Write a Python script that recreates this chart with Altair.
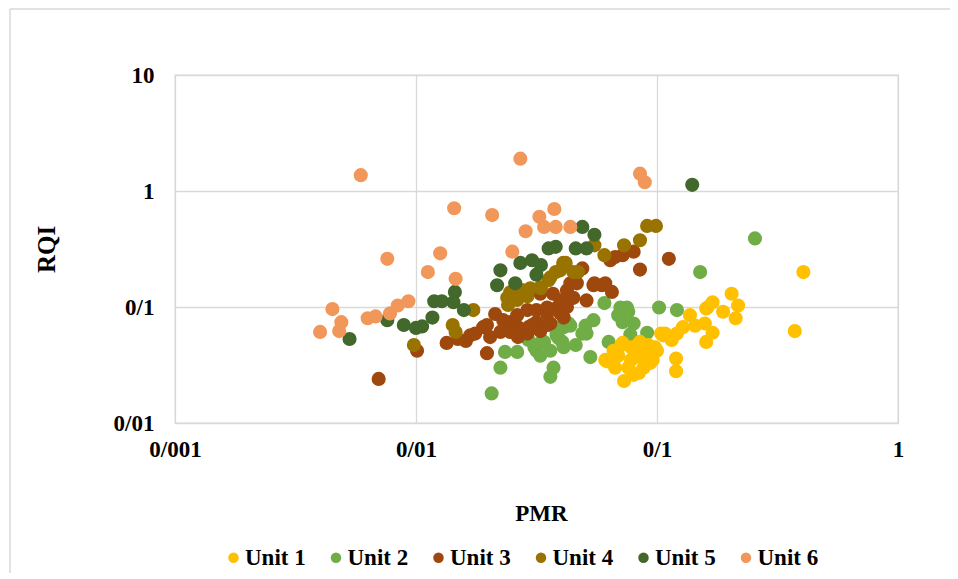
import altair as alt
import pandas as pd

# ---- data (PMR, RQI) per unit ----
u1_pmr = [0.405, 0.373, 0.204, 0.217, 0.212, 0.170, 0.162, 0.188, 0.160, 0.158, 0.170, 0.160,
          0.137, 0.128, 0.121, 0.120, 0.120, 0.106, 0.098, 0.100, 0.108, 0.094, 0.085, 0.083,
          0.088, 0.085, 0.078, 0.080, 0.073, 0.076, 0.071, 0.072, 0.069, 0.067, 0.062, 0.061,
          0.096, 0.089, 0.104, 0.115, 0.144, 0.092, 0.066, 0.078, 0.084]
u1_rqi = [0.20, 0.062, 0.13, 0.103, 0.080, 0.11, 0.099, 0.091, 0.097, 0.072, 0.060, 0.050,
          0.085, 0.067, 0.059, 0.036, 0.028, 0.057, 0.045, 0.042, 0.059, 0.033, 0.050, 0.047,
          0.030, 0.037, 0.045, 0.026, 0.023, 0.030, 0.047, 0.049, 0.038, 0.030, 0.034, 0.035,
          0.035, 0.040, 0.059, 0.052, 0.069, 0.047, 0.042, 0.035, 0.027]

u2_pmr = [0.0206, 0.0224, 0.0234, 0.0263, 0.0293, 0.031, 0.0316, 0.0328, 0.0328, 0.034, 0.0361,
          0.0361, 0.0372, 0.0383, 0.039, 0.0405, 0.0375, 0.041, 0.041, 0.043, 0.0437, 0.046,
          0.049, 0.0505, 0.051, 0.0529, 0.0545, 0.0605, 0.063, 0.069, 0.0705, 0.072, 0.075,
          0.076, 0.080, 0.0775, 0.091, 0.102, 0.121, 0.151, 0.255]
u2_rqi = [0.018, 0.030, 0.041, 0.041, 0.052, 0.045, 0.042, 0.038, 0.049, 0.050, 0.042,
          0.025, 0.030, 0.057, 0.054, 0.050, 0.067, 0.067, 0.045, 0.072, 0.069, 0.047,
          0.059, 0.069, 0.059, 0.037, 0.077, 0.108, 0.050, 0.085, 0.099, 0.074, 0.099,
          0.091, 0.072, 0.058, 0.060, 0.099, 0.094, 0.20, 0.39]

u3_pmr = [0.0070, 0.0101, 0.0134, 0.0149, 0.0161, 0.0168, 0.0176, 0.019, 0.0197, 0.0203, 0.0197,
          0.0213, 0.0224, 0.0230, 0.0246, 0.0246, 0.0263, 0.0265, 0.0265, 0.029, 0.029, 0.0293,
          0.0303, 0.0316, 0.0316, 0.0328, 0.0328, 0.035, 0.035, 0.035, 0.0361, 0.037, 0.038,
          0.0397, 0.0397, 0.041, 0.0423, 0.0423, 0.0437, 0.045, 0.0465, 0.049, 0.051, 0.0545,
          0.055, 0.059, 0.061, 0.065, 0.064, 0.067, 0.072, 0.080, 0.085, 0.112]
u3_rqi = [0.024, 0.042, 0.049, 0.053, 0.051, 0.057, 0.059, 0.067, 0.040, 0.055, 0.070,
          0.087, 0.061, 0.077, 0.074, 0.061, 0.085, 0.067, 0.055, 0.094, 0.059, 0.067,
          0.070, 0.074, 0.094, 0.062, 0.13, 0.087, 0.070, 0.099, 0.072, 0.13, 0.097,
          0.114, 0.088, 0.081, 0.10, 0.139, 0.16, 0.12, 0.16, 0.215, 0.114, 0.154,
          0.16, 0.154, 0.16, 0.135, 0.253, 0.27, 0.28, 0.30, 0.21, 0.26]

u4_pmr = [0.0098, 0.0142, 0.0146, 0.0173, 0.0241, 0.0246, 0.0239, 0.0263, 0.0275, 0.0298, 0.0328,
          0.0355, 0.038, 0.0408, 0.0418, 0.045, 0.047, 0.0361, 0.033, 0.055, 0.0605, 0.073,
          0.085, 0.091, 0.099, 0.029, 0.0397]
u4_rqi = [0.047, 0.070, 0.061, 0.094, 0.104, 0.134, 0.12, 0.115, 0.14, 0.145, 0.148,
          0.170, 0.20, 0.24, 0.24, 0.20, 0.20, 0.18, 0.145, 0.34, 0.28, 0.34,
          0.376, 0.50, 0.50, 0.124, 0.207]

u5_pmr = [0.0053, 0.0076, 0.0089, 0.0100, 0.0106, 0.0117, 0.0119, 0.0128, 0.0145, 0.0143, 0.0158,
          0.0224, 0.0217, 0.0258, 0.0271, 0.0303, 0.0316, 0.0355, 0.038, 0.049, 0.055, 0.046,
          0.051, 0.140, 0.033]
u5_rqi = [0.053, 0.077, 0.070, 0.066, 0.068, 0.081, 0.112, 0.112, 0.135, 0.11, 0.094,
          0.207, 0.154, 0.16, 0.24, 0.253, 0.19, 0.32, 0.33, 0.49, 0.42, 0.32,
          0.32, 1.13, 0.23]

u6_pmr = [0.0059, 0.0045, 0.0040, 0.0049, 0.0048, 0.0063, 0.0068, 0.0078, 0.0084, 0.0093, 0.0076,
          0.0112, 0.0126, 0.0146, 0.0144, 0.0207, 0.0271, 0.0251, 0.0285, 0.0325, 0.034, 0.0375,
          0.038, 0.0437, 0.085, 0.089]
u6_rqi = [1.37, 0.096, 0.061, 0.074, 0.062, 0.080, 0.083, 0.088, 0.103, 0.112, 0.26,
          0.20, 0.29, 0.175, 0.71, 0.62, 1.9, 0.30, 0.45, 0.60, 0.49, 0.70,
          0.49, 0.49, 1.41, 1.19]

units = ["Unit 1", "Unit 2", "Unit 3", "Unit 4", "Unit 5", "Unit 6"]
colors = ["#FFC000", "#70AD47", "#9E480E", "#997300", "#43682B", "#F1975A"]
x_ticks = [0.001, 0.01, 0.1, 1]
y_ticks = [0.01, 0.1, 1, 10]

series = {
    "Unit 1": (u1_pmr, u1_rqi), "Unit 2": (u2_pmr, u2_rqi), "Unit 3": (u3_pmr, u3_rqi),
    "Unit 4": (u4_pmr, u4_rqi), "Unit 5": (u5_pmr, u5_rqi), "Unit 6": (u6_pmr, u6_rqi),
}
draw_order = ["Unit 2", "Unit 3", "Unit 4", "Unit 5", "Unit 6", "Unit 1"]
rows = []
for i, u in enumerate(draw_order):
    xs, ys = series[u]
    for a, b in zip(xs, ys):
        rows.append({"unit": u, "PMR": a, "RQI": b, "ord": i})
df = pd.DataFrame(rows)

FONT = "Liberation Serif"
W, H = 723, 348

points = alt.Chart(df).mark_circle(size=200, opacity=1).encode(
    x=alt.X("PMR:Q",
            scale=alt.Scale(type="log", domain=[0.001, 1], nice=False),
            axis=alt.Axis(values=x_ticks, title="PMR",
                          labelExpr="replace(toString(datum.value), '.', '/')",
                          labelFlush=False, labelOverlap=False,
                          labelPadding=15, titleX=366, titleY=90,
                          titleBaseline="middle", titleAlign="center")),
    y=alt.Y("RQI:Q",
            scale=alt.Scale(type="log", domain=[0.01, 10], nice=False),
            axis=alt.Axis(values=y_ticks, title="RQI",
                          labelExpr="replace(toString(datum.value), '.', '/')",
                          labelFlush=False, labelOverlap=False,
                          labelPadding=21, titleX=-129, titleY=174, titleAngle=270,
                          titleFontSize=25,
                          titleBaseline="middle", titleAlign="center")),
    color=alt.Color("unit:N",
                    scale=alt.Scale(domain=units, range=colors),
                    legend=alt.Legend(title=None, orient="none", direction="horizontal",
                                      legendX=47, legendY=471, symbolType="circle",
                                      symbolSize=110, labelOffset=0, columnPadding=18.5,
                                      labelFont=FONT, labelFontSize=23, labelFontWeight="bold",
                                      labelColor="#000000", padding=0)),
    order=alt.Order("ord:Q"),
)

frame_data = alt.Data(values=[{"a": 1}])
frame_left = alt.Chart(frame_data).mark_rule(color="#d9d9d9", strokeWidth=1.5).encode(
    x=alt.value(-165), y=alt.value(-66), y2=alt.value(700)
)
frame_top = alt.Chart(frame_data).mark_rule(color="#d9d9d9", strokeWidth=1.5).encode(
    x=alt.value(-165), x2=alt.value(1000), y=alt.value(-66)
)

chart = alt.layer(frame_left, frame_top, points).properties(
    width=W, height=H,
    autosize=alt.AutoSizeParams(type="none"),
    padding={"left": 167, "top": 67, "right": 52, "bottom": 150},
    background="white",
).configure_view(
    stroke="#d9d9d9", strokeWidth=1.3
).configure_axis(
    grid=True, gridColor="#d9d9d9", gridWidth=1.3,
    domain=False, ticks=False,
    labelFont=FONT, labelFontSize=23, labelFontWeight="bold", labelColor="#000000",
    titleFont=FONT, titleFontSize=23, titleFontWeight="bold", titleColor="#000000",
)

chart.save("out.html", embed_options={"renderer": "svg", "actions": False})
